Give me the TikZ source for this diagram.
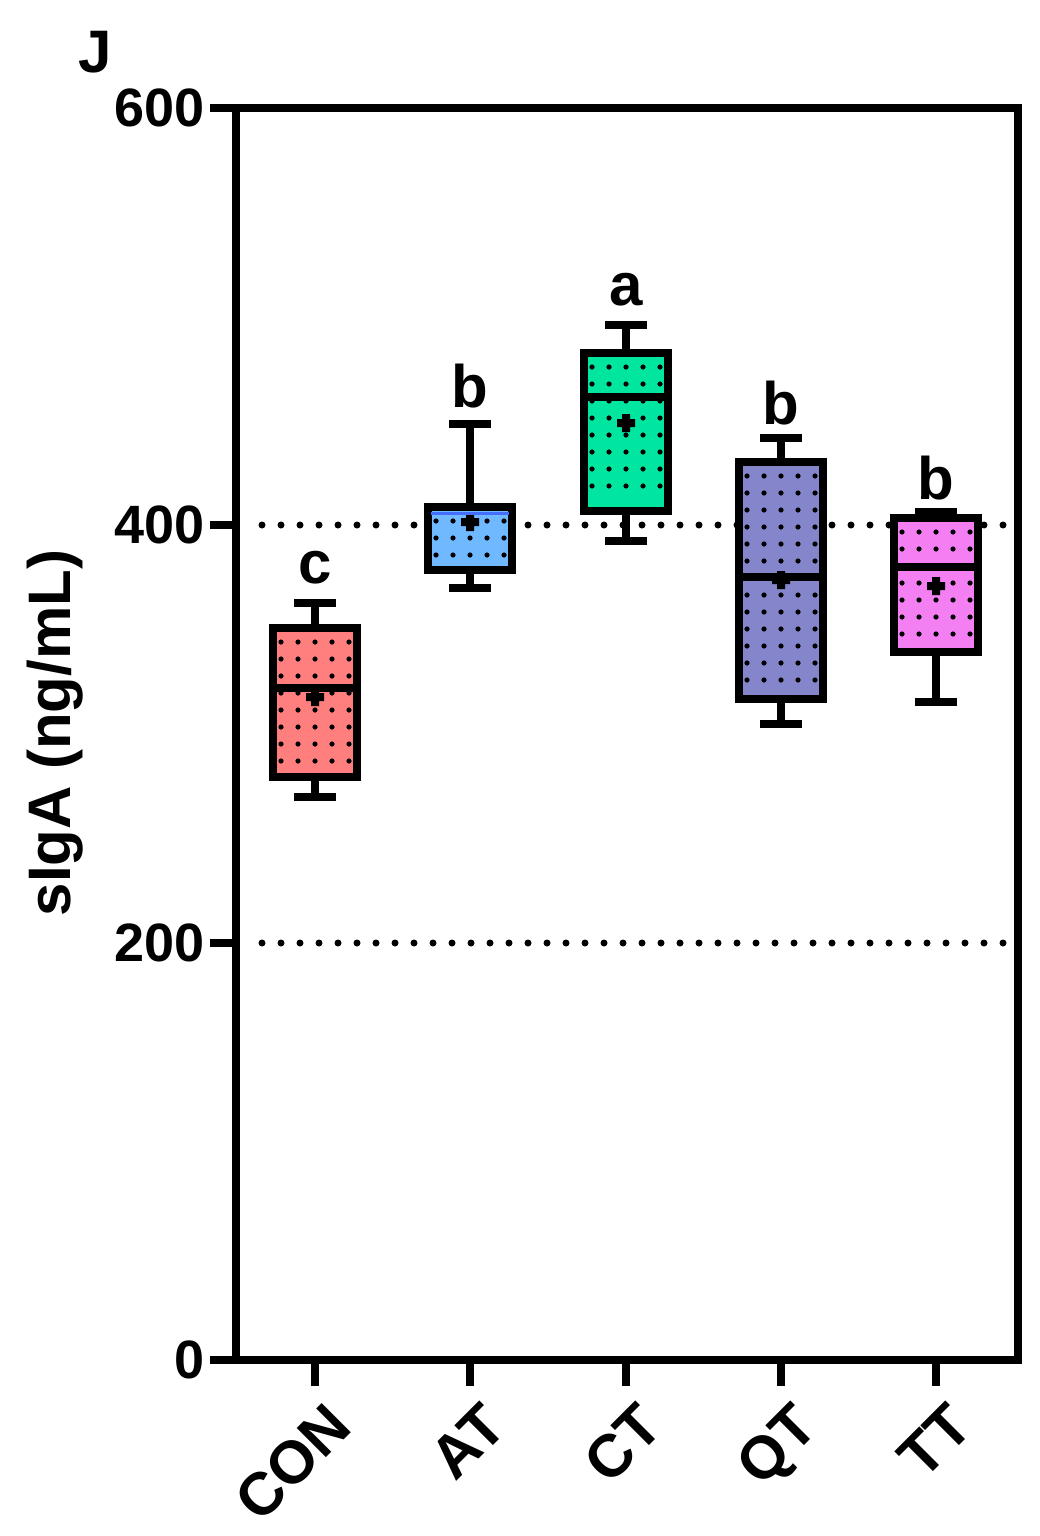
\documentclass[tikz,border=0pt]{standalone}
\usepackage{fontspec}
\setmainfont{Liberation Sans}
\begin{document}
\begin{tikzpicture}[x=1pt,y=-1pt,
  lab/.style={font=\fontsize{54}{58}\selectfont\bfseries},
  big/.style={font=\fontsize{60}{64}\selectfont\bfseries},
  lw/.style={line width=8pt},
  dotline/.style={line width=7pt,line cap=round,dash pattern=on 0pt off 19pt}]
\definecolor{ccon}{HTML}{FF7F7F}
\definecolor{cat}{HTML}{70B8FF}
\definecolor{cct}{HTML}{00E6A0}
\definecolor{cqt}{HTML}{8585CC}
\definecolor{ctt}{HTML}{F37FF3}
\useasboundingbox (0,0) rectangle (1040,1536);
\draw[dotline] (262,525) -- (1005,525);
\draw[dotline] (262,943) -- (1005,943);
\foreach \xc/\tp/\bt/\md/\wt/\wb/\mn/\col [count=\i] in
 {315/628/777/688/603/797/697/ccon, 470/507/570/513/424/588/522/cat,
  626/353/511/397/325/541/423/cct, 781/462/699/577/438/724/580/cqt,
  936/518/652/567/512/702/586/ctt}{
  \draw[lw] (\xc,\wt) -- (\xc,\tp) (\xc-21,\wt) -- (\xc+21,\wt);
  \draw[lw] (\xc,\wb) -- (\xc,\bt) (\xc-21,\wb) -- (\xc+21,\wb);
  \fill[\col] (\xc-42,\tp) rectangle (\xc+42,\bt);
  \pgfmathsetmacro{\ya}{\tp+14}
  \pgfmathsetmacro{\yb}{\tp+31}
  \foreach \yy in {\ya,\yb,...,\bt}{
    \pgfmathparse{\yy<\bt-8}
    \ifnum\pgfmathresult=1
      \foreach \dx in {-34,-17,0,17,34}{\fill (\xc+\dx,\yy) circle (2.6);}
    \fi}
  \draw[lw] (\xc-42,\tp) rectangle (\xc+42,\bt);
  \fill (\xc-9,\mn-4) rectangle (\xc+9,\mn+4) (\xc-4,\mn-9) rectangle (\xc+4,\mn+9);
}
\draw[lw] (273,688) -- (357,688);
\draw[line width=3pt,cat!60!blue] (431,513) -- (509,513);
\draw[lw] (587,397) -- (665,397);
\draw[lw] (742,577) -- (820,577);
\draw[lw] (898,567) -- (977,567);
\draw[lw] (236,108) rectangle (1018,1360);
\foreach \y/\t [count=\i] in {108/600,525/400,943/200,1360/0}{
  \draw[lw] (210,\y) -- (236,\y);
  \node[lab,anchor=east,inner sep=0pt] (yt\i) at (205,\y) {\t};}
\foreach \x/\t [count=\i] in {315/CON,470/AT,626/CT,781/QT,936/TT}{
  \draw[lw] (\x,1360) -- (\x,1386);
  \node[big,anchor=north east,rotate=45,inner sep=0pt] (xt\i) at (\x+10,1400) {\t};}
\node[big] (l1) at (315,568) {c};
\node[big] (l2) at (470,386) {b};
\node[big] (l3) at (626,290) {a};
\node[big] (l4) at (781,403) {b};
\node[big] (l5) at (936,478) {b};
\node[big,rotate=90] (ylab) at (55,733) {sIgA (ng/mL)};
\node[big] (J) at (95,52) {J};
\end{tikzpicture}
\end{document}
